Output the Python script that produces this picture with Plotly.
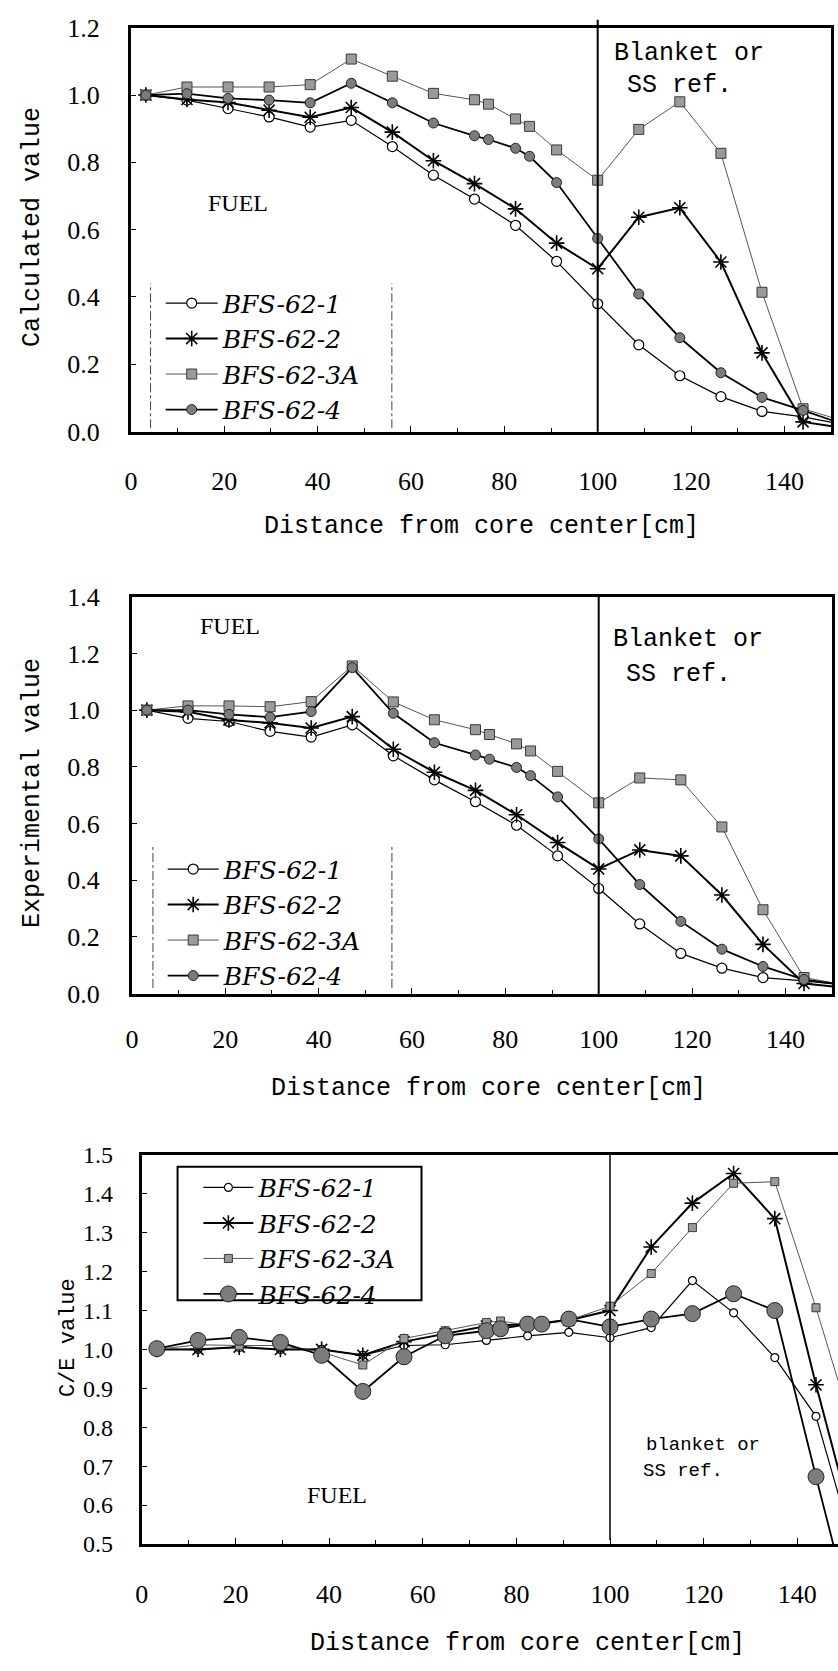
import plotly.graph_objects as go

W, H = 838, 1671

# ---------------- data ----------------
# distance from core centre [cm]
x_main = [3.2, 12, 20.8, 29.6, 38.4, 47.2, 56, 64.8, 73.6, 82.4, 91.2, 100, 108.8, 117.6, 126.4, 135.2, 144, 153]
x_fine = [3.2, 12, 20.8, 29.6, 38.4, 47.2, 56, 64.8, 73.6, 76.6, 82.4, 85.4, 91.2, 100, 108.8, 117.6, 126.4, 135.2, 144, 153]

# Calculated values
calc_1 = [1.00, 0.985, 0.96, 0.935, 0.905, 0.925, 0.847, 0.762, 0.691, 0.613, 0.506, 0.380, 0.258, 0.166, 0.104, 0.060, 0.044, 0.02]
calc_2 = [1.00, 0.987, 0.978, 0.955, 0.934, 0.963, 0.890, 0.805, 0.737, 0.662, 0.560, 0.484, 0.637, 0.665, 0.504, 0.234, 0.029, 0.01]
calc_3A = [1.00, 1.024, 1.024, 1.024, 1.031, 1.107, 1.056, 1.005, 0.986, 0.973, 0.929, 0.907, 0.837, 0.747, 0.898, 0.980, 0.827, 0.414, 0.068, 0.03]
calc_4 = [1.00, 1.004, 0.99, 0.985, 0.977, 1.035, 0.977, 0.917, 0.879, 0.868, 0.842, 0.818, 0.740, 0.574, 0.409, 0.279, 0.175, 0.102, 0.063, 0.02]

# Experimental values
exp_1 = [1.00, 0.971, 0.96, 0.925, 0.905, 0.948, 0.839, 0.754, 0.677, 0.594, 0.486, 0.371, 0.246, 0.142, 0.090, 0.057, 0.045, 0.03]
exp_2 = [1.00, 0.994, 0.965, 0.955, 0.937, 0.977, 0.862, 0.781, 0.717, 0.631, 0.533, 0.440, 0.507, 0.486, 0.348, 0.174, 0.036, 0.02]
exp_3A = [1.00, 1.015, 1.015, 1.012, 1.03, 1.156, 1.029, 0.966, 0.931, 0.914, 0.881, 0.856, 0.784, 0.673, 0.761, 0.754, 0.588, 0.296, 0.057, 0.03]
exp_4 = [1.00, 1.00, 0.985, 0.975, 0.995, 1.15, 0.989, 0.885, 0.842, 0.827, 0.798, 0.769, 0.694, 0.546, 0.385, 0.255, 0.157, 0.096, 0.05, 0.03]

# C/E values
ce_1 = [1.00, 1.00, 1.005, 1.00, 1.00, 0.985, 1.01, 1.012, 1.023, 1.035, 1.044, 1.030, 1.056, 1.177, 1.094, 0.979, 0.828, 0.45]
ce_2 = [1.00, 1.00, 1.006, 1.00, 1.00, 0.985, 1.02, 1.04, 1.06, 1.065, 1.075, 1.10, 1.263, 1.376, 1.452, 1.336, 0.909, 0.50]
ce_3A = [1.00, 1.012, 1.01, 1.01, 0.993, 0.96, 1.028, 1.048, 1.069, 1.073, 1.062, 1.066, 1.075, 1.111, 1.195, 1.313, 1.427, 1.431, 1.107, 0.75]
ce_4 = [1.002, 1.023, 1.031, 1.018, 0.985, 0.892, 0.981, 1.035, 1.048, 1.053, 1.065, 1.065, 1.078, 1.058, 1.078, 1.092, 1.143, 1.100, 0.673, 0.25]

names = ["BFS-62-1", "BFS-62-2", "BFS-62-3A", "BFS-62-4"]
x_tick_vals = [0, 20, 40, 60, 80, 100, 120, 140]

# ---------------- helpers ----------------
def px(x):
    return x / W

def py(y):
    return 1 - y / H

def style(i, big=False):
    if i == 0:
        return dict(marker=dict(symbol="circle", size=8 if big else 10, color="white",
                                line=dict(color="black", width=1.2)),
                    line=dict(color="black", width=1.2))
    if i == 1:
        return dict(marker=dict(symbol="asterisk-open", size=13, color="black",
                                line=dict(color="black", width=1.6)),
                    line=dict(color="black", width=2))
    if i == 2:
        return dict(marker=dict(symbol="square", size=8 if big else 10, color="#9a9a9a",
                                line=dict(color="#3a3a3a", width=1)),
                    line=dict(color="#555555", width=1))
    return dict(marker=dict(symbol="circle", size=16 if big else 10, color="#7c7c7c",
                            line=dict(color="#222222", width=1)),
                line=dict(color="black", width=1.8))

fig = go.Figure()

panels = [
    (x_main, x_main, x_fine, x_fine, [calc_1, calc_2, calc_3A, calc_4], "x", "y", "legend", False),
    (x_main, x_main, x_fine, x_fine, [exp_1, exp_2, exp_3A, exp_4], "x2", "y2", "legend2", False),
    (x_main, x_main, x_fine, x_fine, [ce_1, ce_2, ce_3A, ce_4], "x3", "y3", "legend3", True),
]

for p in panels:
    xs = p[0:4]
    ys = p[4]
    xa, ya, lg, big = p[5], p[6], p[7], p[8]
    for i in range(4):
        st = style(i, big)
        fig.add_trace(go.Scatter(x=xs[i], y=ys[i], name=names[i], mode="lines+markers",
                                 xaxis=xa, yaxis=ya, legend=lg, marker=st["marker"],
                                 line=st["line"], cliponaxis=True))

tick_font = dict(family="Liberation Serif", size=26, color="black")

def xaxis(domain, rng, standoff, anchor):
    return dict(domain=domain, range=rng, anchor=anchor, tickmode="array", tickvals=x_tick_vals,
                ticks="inside", ticklen=6, tickwidth=1, tickcolor="black",
                minor=dict(tickmode="linear", tick0=0, dtick=10, ticks="inside", ticklen=4,
                           tickcolor="black", showgrid=False),
                showline=True, linecolor="black", linewidth=3, mirror=True,
                showgrid=False, zeroline=False, tickfont=tick_font, ticklabelstandoff=standoff)

def yaxis(domain, rng, dtick, standoff, anchor, mirror=True, size=26):
    return dict(domain=domain, range=rng, anchor=anchor, dtick=dtick, tick0=0, tickformat=".1f",
                ticks="inside", ticklen=5, tickwidth=1, tickcolor="black",
                showline=True, linecolor="black", linewidth=3, mirror=mirror,
                showgrid=False, zeroline=False,
                tickfont=dict(family="Liberation Serif", size=size, color="black"),
                ticklabelstandoff=standoff)

leg_font = dict(family="DejaVu Serif", size=25, color="black", style="italic")

fig.update_layout(
    width=W, height=H, margin=dict(l=0, r=0, t=0, b=0),
    paper_bgcolor="white", plot_bgcolor="white",
    xaxis=xaxis([px(125), px(831)], [0, 150], 24, "y"),
    yaxis=yaxis([py(425), py(14)], [0, 1.2], 0.2, 23, "x"),
    xaxis2=xaxis([px(126), px(832)], [0, 150], 20, "y2"),
    yaxis2=yaxis([py(997), py(593)], [0, 1.4], 0.2, 24, "x2"),
    xaxis3=xaxis([px(136), 1.0], [0, 148.7], 25, "y3"),
    yaxis3=yaxis([py(1557), py(1161)], [0.5, 1.5], 0.1, 21, "x3", mirror=False, size=24),
    legend=dict(x=px(155), y=py(271), xanchor="left", yanchor="top", itemwidth=52,
                font=leg_font, bgcolor="rgba(0,0,0,0)", borderwidth=0, tracegroupgap=0),
    legend2=dict(x=px(157), y=py(847), xanchor="left", yanchor="top", itemwidth=51,
                 font=leg_font, bgcolor="rgba(0,0,0,0)", borderwidth=0, tracegroupgap=0),
    legend3=dict(x=px(193), y=py(1171), xanchor="left", yanchor="top", itemwidth=50,
                 font=leg_font, bgcolor="rgba(0,0,0,0)", borderwidth=0, tracegroupgap=0),
    showlegend=True,
)

shapes = [
    # boundary core / blanket
    dict(type="line", xref="x", yref="y domain", x0=100, x1=100, y0=0, y1=1.02,
         line=dict(color="black", width=2)),
    dict(type="line", xref="x2", yref="y2 domain", x0=100, x1=100, y0=0, y1=1,
         line=dict(color="black", width=2)),
    dict(type="line", xref="x3", yref="y3 domain", x0=100, x1=100, y0=0.01, y1=1,
         line=dict(color="black", width=1.5)),
    # legend box of the bottom panel
    dict(type="rect", xref="paper", yref="paper", x0=px(172), x1=px(418), y0=py(1309), y1=py(1173),
         line=dict(color="black", width=2)),
    # dashed remnants around the legends of the upper panels
    dict(type="line", xref="x", yref="y", x0=4.2, x1=4.2, y0=0.01, y1=0.44,
         line=dict(color="#444", width=1, dash="dashdot")),
    dict(type="line", xref="x", yref="y", x0=55.9, x1=55.9, y0=0.01, y1=0.44,
         line=dict(color="#444", width=1, dash="dashdot")),
    dict(type="line", xref="x2", yref="y2", x0=4.5, x1=4.5, y0=0.02, y1=0.52,
         line=dict(color="#444", width=1, dash="dashdot")),
    dict(type="line", xref="x2", yref="y2", x0=55.7, x1=55.7, y0=0.02, y1=0.52,
         line=dict(color="#444", width=1, dash="dashdot")),
]
fig.update_layout(shapes=shapes)

mono = "Liberation Mono"
serif = "Liberation Serif"

def ann(text, x, y, fam, size, angle=0):
    return dict(text=text, xref="paper", yref="paper", x=px(x), y=py(y), xanchor="center",
                yanchor="middle", showarrow=False, textangle=angle,
                font=dict(family=fam, size=size, color="black"))

annotations = [
    ann("Calculated value", 25, 217, mono, 25, -90),
    ann("Experimental value", 25, 793, mono, 25, -90),
    ann("C/E value", 62, 1347, mono, 22, -90),
    ann("Distance from core center[cm]", 479, 522, mono, 25),
    ann("Distance from core center[cm]", 486, 1093, mono, 25),
    ann("Distance from core center[cm]", 525, 1658, mono, 25),
    ann("FUEL", 233, 192, serif, 24),
    ann("FUEL", 225, 623, serif, 24),
    ann("FUEL", 333, 1507, serif, 24),
    ann("Blanket or", 688, 40, mono, 25),
    ann("SS ref.", 678, 73, mono, 25),
    ann("Blanket or", 687, 637, mono, 25),
    ann("SS ref.", 677, 672, mono, 25),
    ann("blanket or", 702, 1456, mono, 19),
    ann("SS ref.", 682, 1483, mono, 19),
]
fig.update_layout(annotations=annotations)

fig.write_html("out.html")
